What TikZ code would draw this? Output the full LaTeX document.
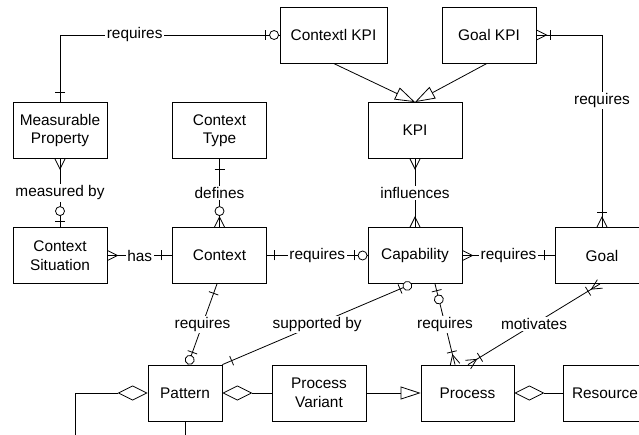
\documentclass[tikz,border=0pt]{standalone}
\usepackage{fontspec}
\setmainfont{Liberation Sans}
\usetikzlibrary{arrows.meta,decorations.markings}
\newcommand\mkbar[1]{\draw (#1,-5pt) -- (#1,5pt);}
\newcommand\mkcirc[1]{\draw[fill=white] (#1,0pt) circle[radius=4.5pt];}
\newcommand\mkcrowS{\draw (0pt,-5pt) -- (10pt,0pt) -- (0pt,5pt);}
\newcommand\mkcrowE{\draw (0pt,-5pt) -- (-10pt,0pt) -- (0pt,5pt);}
\begin{document}
\begin{tikzpicture}[x=1pt,y=-1pt,line width=0.8pt,
  font=\fontsize{15.4}{18.5}\selectfont,
  ent/.style={draw, minimum width=94pt, minimum height=56pt, align=center, inner sep=0pt},
  lbl/.style={fill=white, inner sep=1.5pt},
  smk/.style={postaction={decorate,decoration={markings,mark=at position 0 with {#1}}}},
  emk/.style={postaction={decorate,decoration={markings,mark=at position 0.9999 with {#1}}}},
  gen/.style={-{Triangle[open,length=20pt,width=13pt]}},
  agg/.style={-{Diamond[open,length=30pt,width=15pt]}},
]
\useasboundingbox (0,0) rectangle (639,435);
\clip (0,0) rectangle (639,435);
\fill[white] (0,0) rectangle (639,435);

\node[ent] (mp) at (60,130.5) {Measurable\\Property};
\node[ent] (ct) at (219.5,130.5) {Context\\Type};
\node[ent, minimum width=107pt] (ckpi) at (333.5,35) {Contextl KPI};
\node[ent] (gkpi) at (489,35) {Goal KPI};
\node[ent] (kpi) at (415,130.5) {KPI};
\node[ent] (cs) at (60,255.5) {Context\\Situation};
\node[ent] (ctx) at (219.5,255.5) {Context};
\node[ent] (cap) at (415,255.5) {Capability};
\node[ent] (goal) at (602,255.5) {Goal};
\node[ent, minimum width=74pt] (pat) at (185,393) {Pattern};
\node[ent] (pv) at (319,393) {Process\\Variant};
\node[ent, minimum width=93pt] (proc) at (467.5,393) {Process};
\node[ent, minimum width=84pt] (res) at (605,393) {Resource};

\draw[smk={\mkbar{10pt}}, emk={\mkcirc{-5.5pt}\mkbar{-14pt}}]
  (mp.north) |- node[lbl,pos=0.67]{requires} (ckpi.west);
\draw[gen] (ckpi.south) -- (kpi.north);
\draw[gen] ([xshift=-2pt]gkpi.south) -- (kpi.north);
\draw[smk={\mkcrowS\mkbar{14pt}}, emk={\mkcrowE\mkbar{-15pt}}]
  (gkpi.east) -| node[lbl,pos=0.67]{requires} (goal.north);
\draw[smk={\mkcrowS}, emk={\mkbar{-6pt}\mkcirc{-16pt}}]
  (mp.south) -- node[lbl]{measured by} (cs.north);
\draw[smk={\mkbar{11pt}}, emk={\mkcrowE\mkcirc{-16pt}}]
  (ct.south) -- node[lbl]{defines} (ctx.north);
\draw[smk={\mkcrowS}, emk={\mkbar{-11pt}}]
  (cs.east) -- node[lbl]{has} (ctx.west);
\draw[smk={\mkbar{7pt}}, emk={\mkcirc{-5pt}\mkbar{-13pt}}]
  (ctx.east) -- node[lbl]{requires} (cap.west);
\draw[smk={\mkcrowS}, emk={\mkbar{-10pt}}]
  (cap.east) -- node[lbl]{requires} (goal.west);
\draw[smk={\mkcrowS}, emk={\mkcrowE}]
  (kpi.south) -- node[lbl]{influences} (cap.north);
\draw[smk={\mkbar{10pt}}, emk={\mkcirc{-5pt}\mkbar{-13pt}}]
  ([xshift=-2.5pt]ctx.south) -- node[lbl]{requires} ([xshift=3pt]pat.north);
\draw[smk={\mkcirc{5pt}\mkbar{13pt}}, emk={\mkbar{-10pt}}]
  ([xshift=-3pt]cap.south) -- node[lbl]{supported by} (pat.north east);
\draw[smk={\mkbar{7pt}\mkcirc{16pt}}, emk={\mkcrowE\mkbar{-13pt}}]
  ([xshift=20pt]cap.south) -- node[lbl]{requires} ([xshift=-12.5pt]proc.north);
\draw[smk={\mkcrowS\mkbar{14pt}}, emk={\mkcrowE\mkbar{-14pt}}]
  ([xshift=-2pt]goal.south) -- node[lbl]{motivates} ([xshift=0.5pt]proc.north);
\draw[agg] (pv.west) -- (pat.east);
\draw[gen] (pv.east) -- (proc.west);
\draw[agg] (res.west) -- (proc.east);
\coordinate (la) at (75,450);
\draw[{Diamond[open,length=30pt,width=15pt]}-] (pat.west) -| (la) -| (pat.south);
\end{tikzpicture}
\end{document}
